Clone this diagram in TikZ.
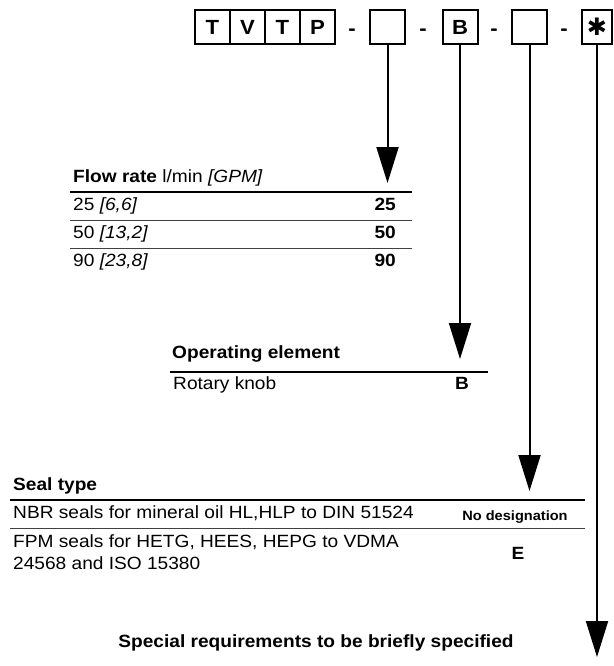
\documentclass[tikz,border=0pt]{standalone}
\usepackage{fontspec}
\setmainfont{Liberation Sans}[FakeStretch=1.08]
\newfontfamily\djv{DejaVu Sans}
\usetikzlibrary{arrows.meta}
\begin{document}
\begin{tikzpicture}[x=1pt,y=-1pt,
  cell/.style={draw,line width=2pt,minimum width=35pt,minimum height=34pt,inner sep=0pt,font=\fontsize{20.5}{24}\selectfont\bfseries},
  dashn/.style={inner sep=0pt,anchor=base,font=\fontsize{20.5}{24}\selectfont\bfseries},
  txt/.style={inner sep=0pt,anchor=base west,font=\fontsize{17.7}{21}\selectfont},
  btxt/.style={inner sep=0pt,anchor=base,font=\fontsize{17.7}{21}\selectfont\bfseries},
  small/.style={inner sep=0pt,anchor=base,font=\fontsize{13.5}{16}\selectfont\bfseries},
  thickrule/.style={line width=2.4pt},
  thinrule/.style={line width=0.8pt,black!75},
  conn/.style={line width=2pt,-{Triangle[length=36pt,width=22pt]}}
]
\useasboundingbox (0,0) rectangle (613,666);
% code boxes
\node[cell] (c1) at (212.5,27) {T};
\node[cell] (c2) at (247.5,27) {V};
\node[cell] (c3) at (282.5,27) {T};
\node[cell] (c4) at (317.5,27) {P};
\node[dashn] (d1) at (352,35.5) {-};
\node[cell] (ba) at (387.5,27) {};
\node[dashn] (d2) at (423,35.5) {-};
\node[cell] (bb) at (460,27) {B};
\node[dashn] (d3) at (494,35.5) {-};
\node[cell] (bc) at (529.5,27) {};
\node[dashn] (d4) at (564,35.5) {-};
\node[cell,minimum width=30pt,font=\fontsize{24}{26}\selectfont\djv] (bd) at (597,27) {✱};
% arrow targets
\coordinate (ta) at (387.5,183);
\coordinate (tb) at (460,359);
\coordinate (tc) at (529.5,491);
\coordinate (td) at (597,657);
\draw[conn] (ba.south) -- (ta);
\draw[conn] (bb.south) -- (tb);
\draw[conn] (bc.south) -- (tc);
\draw[conn] (bd.south) -- (td);
% flow rate table
\node[txt] (fh) at (73,182) {\textbf{Flow rate} l/min \textit{[GPM]}};
\draw[thickrule] (70,192) -- (412,192);
\node[txt] (f1) at (73,210) {25 \textit{[6,6]}};
\node[btxt,anchor=base east] (f1c) at (396,210) {25};
\draw[thinrule] (70,220) -- (412,220);
\node[txt] (f2) at (73,238) {50 \textit{[13,2]}};
\node[btxt,anchor=base east] (f2c) at (396,238) {50};
\draw[thinrule] (70,248) -- (412,248);
\node[txt] (f3) at (73,266) {90 \textit{[23,8]}};
\node[btxt,anchor=base east] (f3c) at (396,266) {90};
% operating element
\node[txt,font=\fontsize{17.7}{21}\selectfont\bfseries] (oh) at (172,358) {Operating element};
\draw[thickrule] (170,372) -- (488,372);
\node[txt] (o1) at (173,389) {Rotary knob};
\node[btxt] (o1c) at (462,389) {B};
% seal type
\node[txt,font=\fontsize{17.7}{21}\selectfont\bfseries] (sh) at (13,490) {Seal type};
\draw[thickrule] (10,500) -- (585,500);
\node[txt] (s1) at (13,518) {NBR seals for mineral oil HL,HLP to DIN 51524};
\node[small] (s1c) at (515,520) {No designation};
\draw[thinrule] (10,528) -- (585,528);
\node[txt] (s2) at (13,547) {FPM seals for HETG, HEES, HEPG to VDMA};
\node[txt] (s2b) at (13,569) {24568 and ISO 15380};
\node[btxt] (s2c) at (518,559) {E};
% special
\node[btxt] (sp) at (316,647) {Special requirements to be briefly specified};
\end{tikzpicture}
\end{document}
